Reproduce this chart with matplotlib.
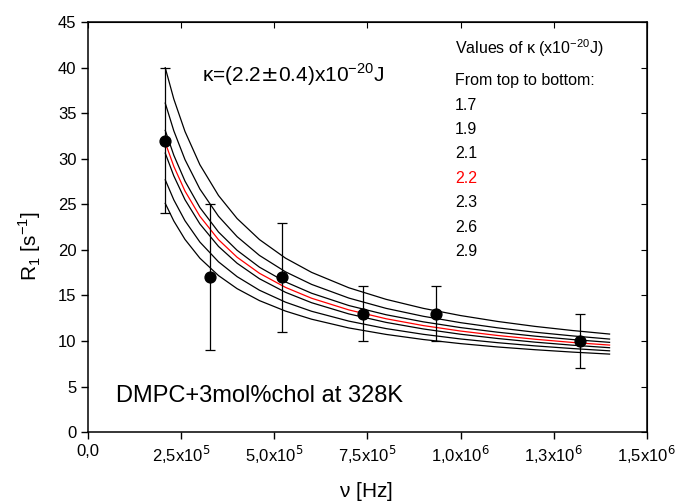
import matplotlib
matplotlib.use('Agg')
import matplotlib.pyplot as plt
import numpy as np

plt.rcParams['font.family'] = ['Liberation Sans', 'DejaVu Sans']

# medidas
nu = [2.07e5, 3.27e5, 5.21e5, 7.38e5, 9.34e5, 1.32e6]
r1 = [32, 17, 17, 13, 13, 10]
r1_lo = [24, 9, 11, 10, 10, 7]
r1_hi = [40, 25, 23, 16, 16, 13]

# curvas (una por kappa)
nu_fit = [2.07e5, 2.3e5, 2.6e5, 3.0e5, 3.5e5, 4.0e5, 4.6e5, 5.3e5, 6.0e5,
          7.0e5, 8.0e5, 9.0e5, 1.0e6, 1.1e6, 1.2e6, 1.3e6, 1.4e6]
kappas = ['1.7', '1.9', '2.1', '2.2', '2.3', '2.6', '2.9']
fit_17 = [40.0, 36.56, 33.0, 29.35, 25.97, 23.44, 21.13, 19.09, 17.53,
          15.84, 14.57, 13.58, 12.79, 12.14, 11.6, 11.15, 10.76]
fit_19 = [36.11, 33.07, 29.91, 26.68, 23.69, 21.45, 19.39, 17.59, 16.21,
          14.71, 13.58, 12.71, 12.01, 11.44, 10.96, 10.56, 10.21]
fit_21 = [33.12, 30.39, 27.55, 24.65, 21.96, 19.95, 18.1, 16.48, 15.24,
          13.89, 12.88, 12.1, 11.47, 10.96, 10.53, 10.16, 9.85]
fit_22 = [31.78, 29.17, 26.46, 23.69, 21.12, 19.19, 17.43, 15.88, 14.69,
          13.41, 12.44, 11.69, 11.09, 10.6, 10.19, 9.84, 9.55]
fit_23 = [30.62, 28.12, 25.51, 22.85, 20.38, 18.53, 16.83, 15.34, 14.2,
          12.97, 12.04, 11.32, 10.74, 10.27, 9.87, 9.54, 9.26]
fit_26 = [27.69, 25.49, 23.2, 20.86, 18.69, 17.06, 15.57, 14.26, 13.26,
          12.18, 11.36, 10.73, 10.22, 9.81, 9.46, 9.17, 8.92]
fit_29 = [25.11, 23.17, 21.15, 19.09, 17.18, 15.74, 14.43, 13.28, 12.39,
          11.43, 10.72, 10.16, 9.71, 9.34, 9.04, 8.78, 8.56]
fits = [fit_17, fit_19, fit_21, fit_22, fit_23, fit_26, fit_29]

xticks = [0, 2.5e5, 5.0e5, 7.5e5, 1.0e6, 1.25e6, 1.5e6]
xticklabels = ['0,0', r'2,5x10$^5$', r'5,0x10$^5$', r'7,5x10$^5$',
               r'1,0x10$^6$', r'1,3x10$^6$', r'1,5x10$^6$']

fig = plt.figure(figsize=(6.78, 5.03), dpi=100)
ax = fig.add_axes([0.130, 0.141, 0.824, 0.815])

for k, f in zip(kappas, fits):
    col = 'red' if k == '2.2' else 'black'
    ax.plot(nu_fit, f, color=col, lw=0.9, zorder=3 if k == '2.2' else 2)

err = [np.array(r1) - np.array(r1_lo), np.array(r1_hi) - np.array(r1)]
ax.errorbar(nu, r1, yerr=err, fmt='o', color='black', ms=7.8,
            elinewidth=0.9, capsize=3.5, capthick=0.9, zorder=4)

ax.set_xlim(0, 1.5e6)
ax.set_ylim(0, 45)
ax.set_xticks(xticks)
ax.set_xticklabels(xticklabels)
ax.set_yticks(range(0, 46, 5))
ax.tick_params(direction='out', labelsize=12, length=5, width=1)
for s in ax.spines.values():
    s.set_linewidth(1.1)

top = ax.secondary_xaxis('top')
top.set_xticks(xticks)
top.tick_params(direction='in', labeltop=False, length=4)
right = ax.secondary_yaxis('right')
right.set_yticks(range(0, 46, 5))
right.tick_params(direction='in', labelright=False, length=4)

ax.set_xlabel(r'$\mathregular{\nu}$ [Hz]', fontsize=15)
ax.xaxis.set_label_coords(0.497, -0.117)
ax.set_ylabel(r'R$_\mathregular{1}$ [s$^\mathregular{-1}$]', fontsize=15)
ax.yaxis.label.set_va('center')
ax.yaxis.set_label_coords(-0.105, 0.454)

ax.text(3.06e5, 38.4, r'$\mathregular{\kappa}$=(2.2$\pm$0.4)x10$^\mathregular{-20}$J',
        fontsize=15)
ax.text(0.75e5, 3.3, 'DMPC+3mol%chol at 328K', fontsize=17)

ax.text(9.85e5, 42.1, r'Values of $\mathregular{\kappa}$ (x10$^\mathregular{-20}$J)',
        fontsize=11.5, va='center')
ax.text(9.85e5, 38.6, 'From top to bottom:', fontsize=11.5, va='center')
for i, k in enumerate(kappas):
    ax.text(9.85e5, 35.9 - i * 2.68, k, fontsize=11.5, va='center',
            color='red' if k == '2.2' else 'black')

fig.savefig('out.png', dpi=100)
